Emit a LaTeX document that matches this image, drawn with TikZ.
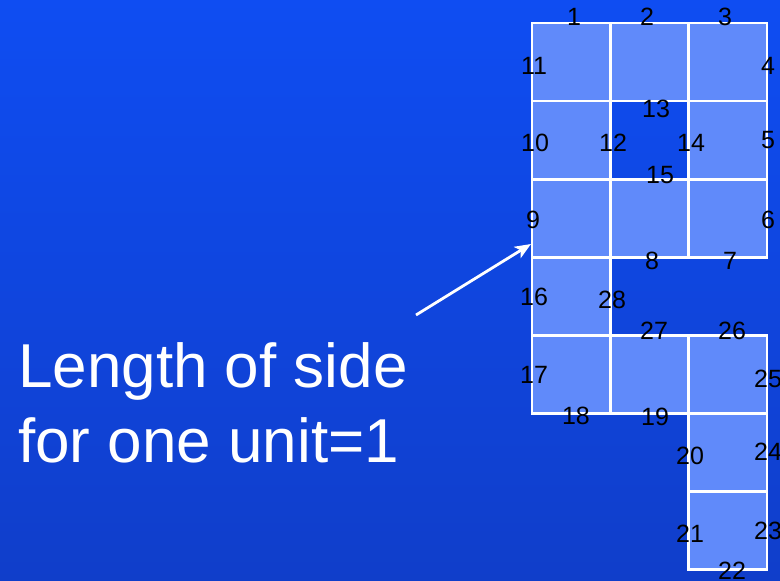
\documentclass[tikz,border=0pt]{standalone}
\usepackage{fontspec}
\setmainfont{Liberation Sans}
\usetikzlibrary{arrows.meta}

\definecolor{bgtop}{RGB}{15,77,242}
\definecolor{bgbot}{RGB}{16,62,202}
\definecolor{cellblue}{RGB}{96,138,250}

\tikzset{
  cell/.style={fill=cellblue, draw=white, line width=2.6pt},
  num/.style={text=black, inner sep=0pt, font=\fontsize{25}{25}\selectfont},
  bigtext/.style={text=white, inner sep=0pt, anchor=base west, font=\fontsize{62}{62}\selectfont}
}

\begin{document}
\begin{tikzpicture}[x=1pt,y=-1pt]
    \useasboundingbox (0,0) rectangle (780,581);
    \shade[top color=bgtop, bottom color=bgbot] (0,0) rectangle (780,581);

    % the unit squares
    \foreach \c/\r in {0/0,1/0,2/0,0/1,2/1,0/2,1/2,2/2,0/3,0/4,1/4,2/4,2/5,2/6}
        \draw[cell] (532+78.3*\c,23+78.1*\r) rectangle ++(78.3,78.1);

        \node[num] (n1) at (574,17) {1};
        \node[num] (n2) at (647,17) {2};
        \node[num] (n3) at (725,17) {3};
        \node[num] (n4) at (768,66) {4};
        \node[num] (n5) at (768,140) {5};
        \node[num] (n6) at (768,220) {6};
        \node[num] (n7) at (730,261) {7};
        \node[num] (n8) at (652,261) {8};
        \node[num] (n9) at (533,220) {9};
        \node[num] (n10) at (535,143) {10};
        \node[num] (n11) at (534,66) {11};
        \node[num] (n12) at (613,143) {12};
        \node[num] (n13) at (656,109) {13};
        \node[num] (n14) at (691,143) {14};
        \node[num] (n15) at (660,175) {15};
        \node[num] (n16) at (534,297) {16};
        \node[num] (n17) at (534,375) {17};
        \node[num] (n18) at (576,416) {18};
        \node[num] (n19) at (655,417) {19};
        \node[num] (n20) at (690,456) {20};
        \node[num] (n21) at (690,534) {21};
        \node[num] (n22) at (732,571) {22};
        \node[num] (n23) at (768,531) {23};
        \node[num] (n24) at (768,452) {24};
        \node[num] (n25) at (768,379) {25};
        \node[num] (n26) at (732,331) {26};
        \node[num] (n27) at (654,331) {27};
        \node[num] (n28) at (612,300) {28};

        \node[bigtext] (len1) at (18,387) {Length of side};
        \node[bigtext] (len2) at (18,462) {for one unit=1};

        % draw the arrow
        \coordinate (tail) at (416,315);
        \coordinate (tip) at (531,244);
        \draw[white, line width=2.8pt, -{Stealth[length=16pt,width=13pt,inset=4pt]}] (tail) -- (tip);

\end{tikzpicture}
\end{document}
